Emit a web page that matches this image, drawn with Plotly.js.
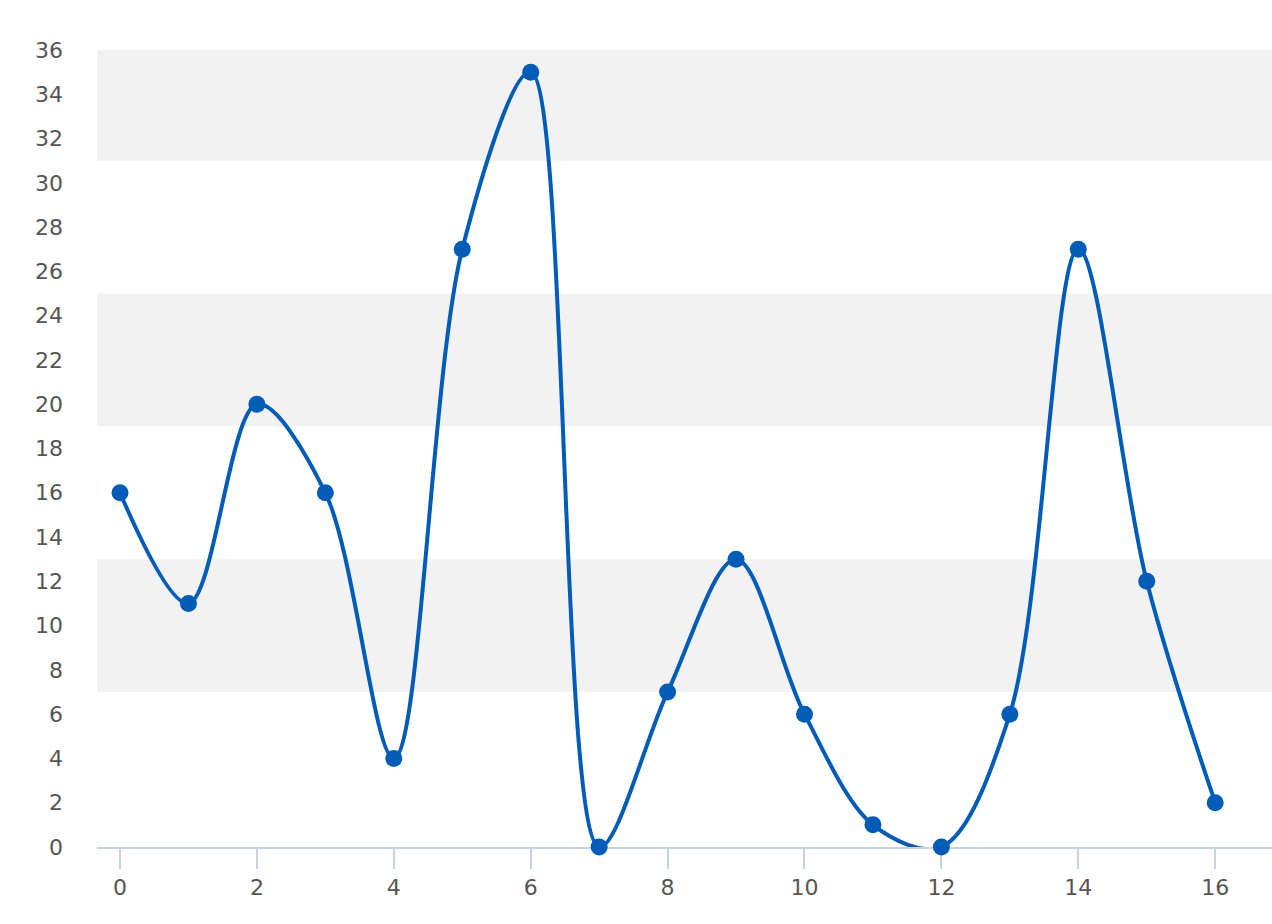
<!DOCTYPE html>
<html>
<head>
<meta charset="utf-8">
<script src="https://cdn.plot.ly/plotly-3.0.1.min.js"></script>
<style>html,body{margin:0;padding:0;background:#fff;}#chart{width:1272px;height:924px;}</style>
</head>
<body>
<div id="chart"></div>
<script>
var xValues = [0, 1, 2, 3, 4, 5, 6, 7, 8, 9, 10, 11, 12, 13, 14, 15, 16];
var yValues = [16, 11, 20, 16, 4, 27, 35, 0, 7, 13, 6, 1, 0, 6, 27, 12, 2];
var bandRanges = [[7, 13], [19, 25], [31, 36]];
var yTicks = [0, 2, 4, 6, 8, 10, 12, 14, 16, 18, 20, 22, 24, 26, 28, 30, 32, 34, 36];
var xTicks = [0, 2, 4, 6, 8, 10, 12, 14, 16];

var shapes = bandRanges.map(function (b) {
  return {type: 'rect', xref: 'paper', yref: 'y', x0: 0, x1: 1, y0: b[0], y1: b[1],
    fillcolor: '#f2f2f2', line: {width: 0}, layer: 'below'};
});

var trace = {
  x: xValues, y: yValues, type: 'scatter', mode: 'lines+markers',
  line: {color: '#005cb9', width: 4, shape: 'spline', smoothing: 0.95},
  marker: {color: '#005cb9', size: 17},
  cliponaxis: false, hoverinfo: 'x+y'
};

var layout = {
  width: 1272, height: 924,
  margin: {l: 97, r: 0, t: 50, b: 76.5, pad: 0},
  paper_bgcolor: '#ffffff', plot_bgcolor: 'rgba(0,0,0,0)',
  showlegend: false,
  font: {family: 'DejaVu Sans, sans-serif', size: 22, color: '#555555'},
  xaxis: {
    range: [-0.336, 16.83], tickvals: xTicks, ticktext: xTicks.map(String),
    showgrid: false, zeroline: false, showline: true, linecolor: '#c6d3e2', linewidth: 2,
    ticks: 'outside', ticklen: 20, tickwidth: 2, tickcolor: '#c6d3e2',
    tickfont: {size: 22, color: '#555555'}, layer: 'below traces'
  },
  yaxis: {
    range: [0, 36], tickvals: yTicks, ticktext: yTicks.map(String),
    showgrid: false, zeroline: false, showline: false, ticks: '',
    ticklabelstandoff: 33,
    tickfont: {size: 22, color: '#555555'}
  },
  shapes: shapes
};

Plotly.newPlot('chart', [trace], layout, {displayModeBar: false, staticPlot: true});
</script>
</body>
</html>
